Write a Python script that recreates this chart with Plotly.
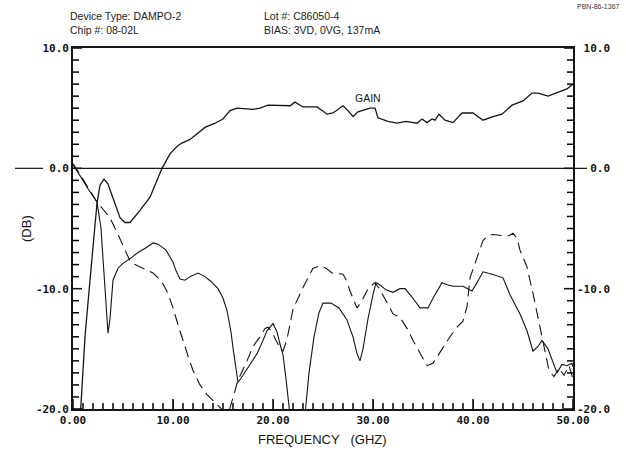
import plotly.graph_objects as go

# ---------------- data ----------------
freq_gain = [0.7, 0.9, 1.2, 1.7, 2.2, 2.4, 2.7, 3.1, 3.5, 4.0, 4.7, 5.2, 5.7, 6.7, 7.7, 8.9,
             9.7, 10.5, 10.9, 11.7, 12.5, 13.2, 14.2, 15.0, 15.7, 16.4, 18.0, 18.7, 19.5,
             21.7, 22.2, 23.0, 24.4, 25.4, 26.0, 27.0, 27.5, 28.0, 28.5, 29.7, 30.2, 30.5,
             31.5, 32.4, 33.3, 34.4, 34.9, 35.4, 35.9, 36.2, 36.6, 37.2, 38.0, 38.9, 40.0,
             41.0, 42.0, 42.9, 43.9, 45.0, 45.9, 46.5, 47.5, 48.7, 49.4, 50.0]
db_gain = [-21.0, -18.0, -14.0, -9.3, -4.6, -2.9, -1.4, -0.9, -1.3, -2.4, -4.1, -4.5, -4.5,
           -3.5, -2.4, 0.0, 1.2, 1.9, 2.1, 2.4, 2.9, 3.4, 3.75, 4.1, 4.8, 5.0, 4.9, 5.0, 5.25,
           5.2, 5.5, 5.1, 5.1, 4.5, 4.6, 5.2, 4.8, 4.3, 4.7, 5.0, 5.0, 4.2, 3.9, 3.75, 3.9,
           3.75, 4.1, 3.8, 4.1, 4.0, 4.5, 4.0, 3.8, 4.6, 4.6, 4.0, 4.3, 4.5, 5.25, 5.6, 6.25,
           6.25, 6.0, 6.4, 6.6, 7.0]

freq_s22 = [0.0, 0.5, 1.0, 1.5, 2.0, 2.4, 2.8, 3.1, 3.3, 3.5, 3.7, 4.0, 4.5, 5.0, 5.7, 6.5,
            7.3, 8.0, 8.5, 9.3, 10.0, 10.3, 10.7, 11.2, 11.7, 12.5, 13.2, 13.8, 14.5, 15.0,
            15.4, 15.8, 16.0, 16.3, 16.5, 17.0, 17.4, 18.4, 19.0, 19.4, 20.0, 20.4, 20.7,
            21.0, 21.3, 21.7, 22.5, 23.2, 23.6, 24.1, 24.6, 25.0, 25.8, 26.6, 27.4, 28.0,
            28.4, 28.7, 29.0, 29.5, 30.0, 30.3, 30.7, 31.3, 32.0, 32.7, 33.2, 34.0, 34.7,
            35.5, 36.0, 36.9, 37.5, 38.0, 39.0, 39.9, 40.4, 41.0, 41.9, 43.0, 43.7, 44.7,
            45.4, 46.0, 46.5, 46.9, 47.5, 48.4, 48.9, 49.4, 49.9, 50.0]
db_s22 = [0.3, -0.3, -1.0, -1.7, -2.3, -2.8, -5.0, -8.5, -11.5, -13.7, -12.5, -9.3, -8.3,
          -7.9, -7.5, -7.0, -6.6, -6.2, -6.3, -6.8, -7.8, -8.5, -9.2, -9.3, -9.0, -8.7, -9.0,
          -9.4, -10.0, -10.8, -11.8, -13.6, -14.9, -16.8, -17.8, -17.2, -16.7, -15.4, -14.3,
          -13.5, -12.9, -13.6, -14.6, -15.5, -17.5, -20.5, -21.0, -20.5, -17.0, -14.0, -12.0,
          -11.2, -11.2, -11.6, -12.6, -14.0, -15.4, -16.0, -15.0, -12.5, -10.5, -9.5, -9.7,
          -10.1, -10.3, -10.0, -10.0, -10.8, -11.6, -11.6, -10.8, -9.5, -9.7, -9.8, -9.8,
          -10.2, -9.5, -8.6, -8.8, -9.1, -10.5, -12.1, -13.5, -15.2, -14.8, -14.3, -15.0,
          -17.0, -16.3, -16.4, -16.2, -16.5]

freq_s11 = [0.0, 0.5, 1.0, 1.5, 2.0, 2.4, 3.0, 3.7, 4.5, 5.2, 5.7, 6.2, 6.7, 7.3, 8.0, 8.5,
            9.0, 9.5, 10.0, 10.5, 10.9, 11.5, 12.0, 12.7, 13.4, 14.0, 14.6, 15.2, 15.6, 16.0,
            16.5, 17.4, 18.0, 18.7, 19.2, 19.5, 19.9, 20.3, 20.7, 21.0, 21.4, 22.0, 23.0,
            24.0, 24.7, 25.3, 25.9, 27.0, 27.4, 27.7, 28.1, 28.4, 28.9, 29.5, 30.2, 30.7,
            31.3, 32.0, 32.7, 33.4, 34.0, 34.7, 35.4, 36.0, 36.5, 37.0, 37.7, 38.4, 39.0,
            39.4, 39.7, 40.2, 40.6, 41.0, 41.5, 42.0, 43.0, 43.6, 44.0, 44.4, 44.7, 45.4,
            46.0, 46.7, 47.2, 47.6, 48.1, 48.6, 49.1, 49.6, 50.0]
db_s11 = [0.4, -0.2, -0.9, -1.6, -2.3, -2.8, -3.4, -4.1, -5.5, -6.8, -7.7, -8.0, -8.2, -8.4,
          -8.7, -9.1, -9.6, -10.4, -11.6, -13.0, -14.1, -15.6, -16.8, -18.0, -18.8, -19.3,
          -19.8, -20.3, -20.2, -19.0, -17.6, -16.0, -14.8, -14.0, -13.3, -13.2, -13.6, -14.3,
          -14.9, -15.2, -14.2, -11.7, -9.9, -8.3, -8.1, -8.3, -8.7, -8.8, -9.4, -10.2, -11.1,
          -11.6, -11.0, -10.0, -9.5, -10.1, -11.0, -12.1, -12.4, -13.3, -14.3, -15.4, -16.4,
          -16.2, -15.6, -14.9, -14.0, -13.2, -12.7, -11.5, -9.1, -7.9, -6.8, -6.0, -5.6, -5.5,
          -5.6, -5.6, -5.4, -5.8, -6.8, -8.2, -10.4, -13.2, -15.5, -16.8, -17.3, -16.6,
          -17.2, -16.4, -17.5]

x_range = [0, 50]
y_range = [-20, 10]
x_major_step, x_minor_step = 10, 1
y_major_step, y_minor_step = 10, 1
# label text as printed on the plot (right-hand labels are right-aligned)
y_alias = {"\u221210.0": "-10.0", "\u221220.0": "-20.0"}
y_alias_right = {"10.0": "\u00a010.0", "0.0": "\u00a0\u00a00.0",
                 "\u221210.0": "-10.0", "\u221220.0": "-20.0"}

# ---------------- figure ----------------
INK = "#141414"
L, R, T, B = 73, 53, 48, 41
W, H = 626, 450
pw, ph = W - L - R, H - T - B
x_per_px = (x_range[1] - x_range[0]) / pw
y_per_px = (y_range[1] - y_range[0]) / ph

def px(xp):
    return (xp - L) / pw

def py(yp):
    return (H - B - yp) / ph

fig = go.Figure()
fig.add_trace(go.Scatter(x=freq_s11, y=db_s11, mode="lines", yaxis="y2",
                         line=dict(color=INK, width=1.1, dash="11px,6px"),
                         hoverinfo="skip", showlegend=False))
fig.add_trace(go.Scatter(x=freq_s22, y=db_s22, mode="lines",
                         line=dict(color=INK, width=1.1),
                         hoverinfo="skip", showlegend=False))
fig.add_trace(go.Scatter(x=freq_gain, y=db_gain, mode="lines",
                         line=dict(color=INK, width=1.3),
                         hoverinfo="skip", showlegend=False))

# inward tick marks along the frame, built from the axis ranges and tick steps
tx, ty = [], []
for v in range(x_range[0], x_range[1] + 1, x_minor_step):
    n = 10 if v % x_major_step == 0 else 6
    tx += [v, v, None]
    ty += [y_range[0], y_range[0] + n * y_per_px, None]
for v in range(y_range[0], y_range[1] + 1, y_minor_step):
    n = 9 if v % y_major_step == 0 else 6
    tx += [x_range[0], x_range[0] + n * x_per_px, None,
           x_range[1] - n * x_per_px, x_range[1], None]
    ty += [v, v, None, v, v, None]
fig.add_trace(go.Scatter(x=tx, y=ty, mode="lines", connectgaps=False,
                         line=dict(color="#000000", width=1.5),
                         hoverinfo="skip", showlegend=False))

tickfont = dict(family="DejaVu Sans Mono", size=11, color=INK, weight="bold")
yaxis_common = dict(range=y_range, showgrid=False, zeroline=False, automargin=False,
                    showline=True, linecolor=INK, linewidth=1.6,
                    ticks="inside", ticklen=8, tickwidth=1.4, tickcolor=INK,
                    tickmode="linear", tick0=0, dtick=y_major_step, tickformat=".1f",
                    tickfont=tickfont)

fig.update_layout(
    width=W, height=H,
    margin=dict(l=L, r=R, t=T, b=B, pad=0),
    paper_bgcolor="white", plot_bgcolor="white",
    showlegend=False,
    xaxis=dict(range=x_range, showgrid=False, zeroline=False, automargin=False,
               showline=True, linecolor=INK, linewidth=1.6, mirror=True,
               ticks="inside", ticklen=9, tickwidth=1.4, tickcolor=INK,
               tickmode="linear", tick0=0, dtick=x_major_step, tickformat=".2f",
               tickfont=tickfont),
    yaxis=dict(**yaxis_common, labelalias=y_alias),
    yaxis2=dict(**yaxis_common, labelalias=y_alias_right,
                overlaying="y", side="right", anchor="x"),
)

# zero reference line (extends past both axes, broken by the left label)
fig.add_shape(type="line", xref="paper", yref="y", x0=px(15), x1=px(43), y0=0, y1=0,
              line=dict(color=INK, width=1.2))
fig.add_shape(type="line", xref="paper", yref="y", x0=0, x1=px(587), y0=0, y1=0,
              line=dict(color=INK, width=1.2))

# axis titles
fig.add_annotation(text="(DB)", xref="paper", yref="paper", x=px(26), y=py(229),
                   xanchor="center", yanchor="middle", textangle=-90, showarrow=False,
                   font=dict(family="Liberation Sans", size=13, color=INK))
fig.add_annotation(text="FREQUENCY\u00a0\u00a0\u00a0(GHZ)", xref="paper", yref="paper",
                   x=px(322), y=py(439), xanchor="center", yanchor="middle",
                   showarrow=False,
                   font=dict(family="Liberation Sans", size=13, color=INK))

hdr = dict(family="Liberation Sans", size=10.5, color="#222")
texts = [
    ("Device Type: DAMPO-2", 68, 16),
    ("Chip #: 08-02L", 68, 30),
    ("Lot #: C86050-4", 262, 16),
    ("BIAS: 3VD, 0VG, 137mA", 262, 30),
]
for t, xx, yy in texts:
    fig.add_annotation(text=t, xref="paper", yref="paper", x=px(xx), y=py(yy),
                       xanchor="left", yanchor="middle", showarrow=False, font=hdr)
fig.add_annotation(text="PBN-86-1367", xref="paper", yref="paper", x=px(622), y=py(7),
                   xanchor="right", yanchor="middle", showarrow=False,
                   font=dict(family="Liberation Sans", size=7, color="#333"))
fig.add_annotation(text="GAIN", xref="paper", yref="paper", x=px(353), y=py(98),
                   xanchor="left", yanchor="middle", showarrow=False,
                   font=dict(family="Liberation Sans", size=10.5, color=INK))

fig.write_html("out.html")
